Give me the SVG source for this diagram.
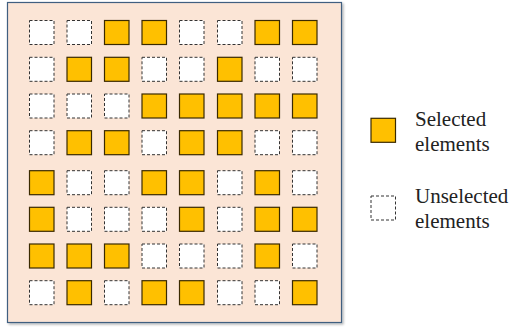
<svg xmlns="http://www.w3.org/2000/svg" width="509" height="330" viewBox="0 0 509 330">
<style>
.sel{fill:#ffc000;stroke:#3a2a00;stroke-width:1.2}
.uns{fill:#ffffff;stroke:#333333;stroke-width:1;stroke-dasharray:3,2}
.lbl{font-family:"Liberation Serif","Times New Roman",serif;font-size:21px;fill:#222}
</style>
<defs>
<filter id="sh" x="-5%" y="-5%" width="110%" height="110%"><feDropShadow dx="1.5" dy="1.5" stdDeviation="1" flood-color="#000" flood-opacity="0.3"/></filter>
</defs>
<rect x="0" y="0" width="509" height="330" fill="#ffffff"/>
<g id="panel"><rect x="7.5" y="2.5" width="334" height="320" fill="#fbe5d6" stroke="#3f5f80" stroke-width="1.2" filter="url(#sh)"/></g>
<g id="grid">
<!-- row 0 y=20.7 -->
<rect class="uns" x="29.5" y="20.5" width="24.5" height="24"/><rect class="uns" x="67" y="20.5" width="24.5" height="24"/><rect class="sel" x="104.5" y="20.5" width="24.5" height="24"/><rect class="sel" x="142" y="20.5" width="24.5" height="24"/><rect class="uns" x="179.5" y="20.5" width="24.5" height="24"/><rect class="uns" x="217.5" y="20.5" width="24.5" height="24"/><rect class="sel" x="255" y="20.5" width="24.5" height="24"/><rect class="sel" x="292.5" y="20.5" width="24.5" height="24"/>
<!-- row 1 -->
<rect class="uns" x="29.5" y="57.3" width="24.5" height="24"/><rect class="sel" x="67" y="57.3" width="24.5" height="24"/><rect class="sel" x="104.5" y="57.3" width="24.5" height="24"/><rect class="uns" x="142" y="57.3" width="24.5" height="24"/><rect class="uns" x="179.5" y="57.3" width="24.5" height="24"/><rect class="sel" x="217.5" y="57.3" width="24.5" height="24"/><rect class="uns" x="255" y="57.3" width="24.5" height="24"/><rect class="uns" x="292.5" y="57.3" width="24.5" height="24"/>
<!-- row 2 -->
<rect class="uns" x="29.5" y="94" width="24.5" height="24"/><rect class="uns" x="67" y="94" width="24.5" height="24"/><rect class="uns" x="104.5" y="94" width="24.5" height="24"/><rect class="sel" x="142" y="94" width="24.5" height="24"/><rect class="sel" x="179.5" y="94" width="24.5" height="24"/><rect class="sel" x="217.5" y="94" width="24.5" height="24"/><rect class="sel" x="255" y="94" width="24.5" height="24"/><rect class="sel" x="292.5" y="94" width="24.5" height="24"/>
<!-- row 3 -->
<rect class="uns" x="29.5" y="130.7" width="24.5" height="24"/><rect class="sel" x="67" y="130.7" width="24.5" height="24"/><rect class="sel" x="104.5" y="130.7" width="24.5" height="24"/><rect class="uns" x="142" y="130.7" width="24.5" height="24"/><rect class="sel" x="179.5" y="130.7" width="24.5" height="24"/><rect class="sel" x="217.5" y="130.7" width="24.5" height="24"/><rect class="uns" x="255" y="130.7" width="24.5" height="24"/><rect class="uns" x="292.5" y="130.7" width="24.5" height="24"/>
<!-- row 4 -->
<rect class="sel" x="29.5" y="170.7" width="24.5" height="24"/><rect class="uns" x="67" y="170.7" width="24.5" height="24"/><rect class="uns" x="104.5" y="170.7" width="24.5" height="24"/><rect class="sel" x="142" y="170.7" width="24.5" height="24"/><rect class="sel" x="179.5" y="170.7" width="24.5" height="24"/><rect class="uns" x="217.5" y="170.7" width="24.5" height="24"/><rect class="sel" x="255" y="170.7" width="24.5" height="24"/><rect class="uns" x="292.5" y="170.7" width="24.5" height="24"/>
<!-- row 5 -->
<rect class="sel" x="29.5" y="207.3" width="24.5" height="24"/><rect class="uns" x="67" y="207.3" width="24.5" height="24"/><rect class="uns" x="104.5" y="207.3" width="24.5" height="24"/><rect class="uns" x="142" y="207.3" width="24.5" height="24"/><rect class="sel" x="179.5" y="207.3" width="24.5" height="24"/><rect class="uns" x="217.5" y="207.3" width="24.5" height="24"/><rect class="sel" x="255" y="207.3" width="24.5" height="24"/><rect class="sel" x="292.5" y="207.3" width="24.5" height="24"/>
<!-- row 6 -->
<rect class="sel" x="29.5" y="244" width="24.5" height="24"/><rect class="sel" x="67" y="244" width="24.5" height="24"/><rect class="sel" x="104.5" y="244" width="24.5" height="24"/><rect class="uns" x="142" y="244" width="24.5" height="24"/><rect class="uns" x="179.5" y="244" width="24.5" height="24"/><rect class="uns" x="217.5" y="244" width="24.5" height="24"/><rect class="sel" x="255" y="244" width="24.5" height="24"/><rect class="uns" x="292.5" y="244" width="24.5" height="24"/>
<!-- row 7 -->
<rect class="uns" x="29.5" y="280.7" width="24.5" height="24"/><rect class="sel" x="67" y="280.7" width="24.5" height="24"/><rect class="uns" x="104.5" y="280.7" width="24.5" height="24"/><rect class="sel" x="142" y="280.7" width="24.5" height="24"/><rect class="sel" x="179.5" y="280.7" width="24.5" height="24"/><rect class="uns" x="217.5" y="280.7" width="24.5" height="24"/><rect class="uns" x="255" y="280.7" width="24.5" height="24"/><rect class="sel" x="292.5" y="280.7" width="24.5" height="24"/>
</g>
<g id="legend-selected">
<rect class="sel" x="371" y="118.3" width="24.5" height="24"/>
<text class="lbl" x="415" y="125.7">Selected</text>
<text class="lbl" x="415" y="151">elements</text>
</g>
<g id="legend-unselected">
<rect class="uns" x="371" y="196" width="24.5" height="24"/>
<text class="lbl" x="415" y="203.3">Unselected</text>
<text class="lbl" x="415" y="227.7">elements</text>
</g>
<g id="connectors"></g>
</svg>
